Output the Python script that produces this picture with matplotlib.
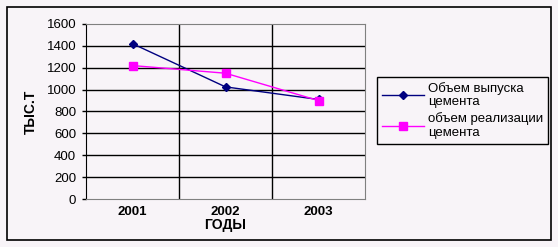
import matplotlib.pyplot as plt
from matplotlib.patches import Rectangle

years = ['2001', '2002', '2003']
vypusk = [1420, 1025, 910]
realiz = [1220, 1150, 900]
yticks = [0, 200, 400, 600, 800, 1000, 1200, 1400, 1600]

bg = '#f8f4f8'
plt.rcParams['font.family'] = ['Liberation Sans', 'DejaVu Sans']

fig = plt.figure(figsize=(5.58, 2.47), dpi=100, facecolor=bg)
fig.patches.append(Rectangle((7 / 558, 1 - 240 / 247), 544 / 558, 233 / 247,
                             transform=fig.transFigure, fill=False,
                             edgecolor='black', linewidth=1.2))

ax = fig.add_axes([86 / 558, 1 - 199 / 247, 279 / 558, 175 / 247], facecolor=bg)
x = [0.5, 1.5, 2.5]
ax.plot(x, vypusk, color='#000080', marker='D', markersize=4, linewidth=1,
        label='Объем выпуска\nцемента')
ax.plot(x, realiz, color='#ff00ff', marker='s', markersize=6, linewidth=1,
        label='объем реализации\nцемента')

ax.set_xlim(0, 3)
ax.set_ylim(0, 1600)
ax.set_yticks(yticks)
ax.set_yticklabels([str(v) for v in yticks], fontsize=9.5)
ax.set_xticks(x)
ax.set_xticklabels(years, fontsize=9.5, fontweight='bold')
ax.tick_params(axis='x', length=0, pad=5)
ax.tick_params(axis='y', length=3, width=1, pad=4)

for v in yticks[1:-1]:
    ax.axhline(v, color='black', linewidth=1, zorder=0)
for v in [1, 2]:
    ax.axvline(v, color='black', linewidth=1, zorder=0)

for s in ['top', 'right', 'bottom']:
    ax.spines[s].set_color('#808080')
ax.spines['left'].set_color('black')

ax.set_xlabel('ГОДЫ', fontsize=10, fontweight='bold', labelpad=0)
ax.set_ylabel('ТЫС.Т', fontsize=10, fontweight='bold', labelpad=6)

leg = fig.legend(loc='upper left', bbox_to_anchor=(377 / 558, 1 - 77 / 247),
                 borderaxespad=0, fontsize=9.5, frameon=True, fancybox=False,
                 edgecolor='black', facecolor=bg, framealpha=1, handlelength=3.2,
                 borderpad=0.35, labelspacing=0.3, handletextpad=0.3)
leg.get_frame().set_linewidth(1)

plt.savefig('out.png', dpi=100, facecolor=bg)
